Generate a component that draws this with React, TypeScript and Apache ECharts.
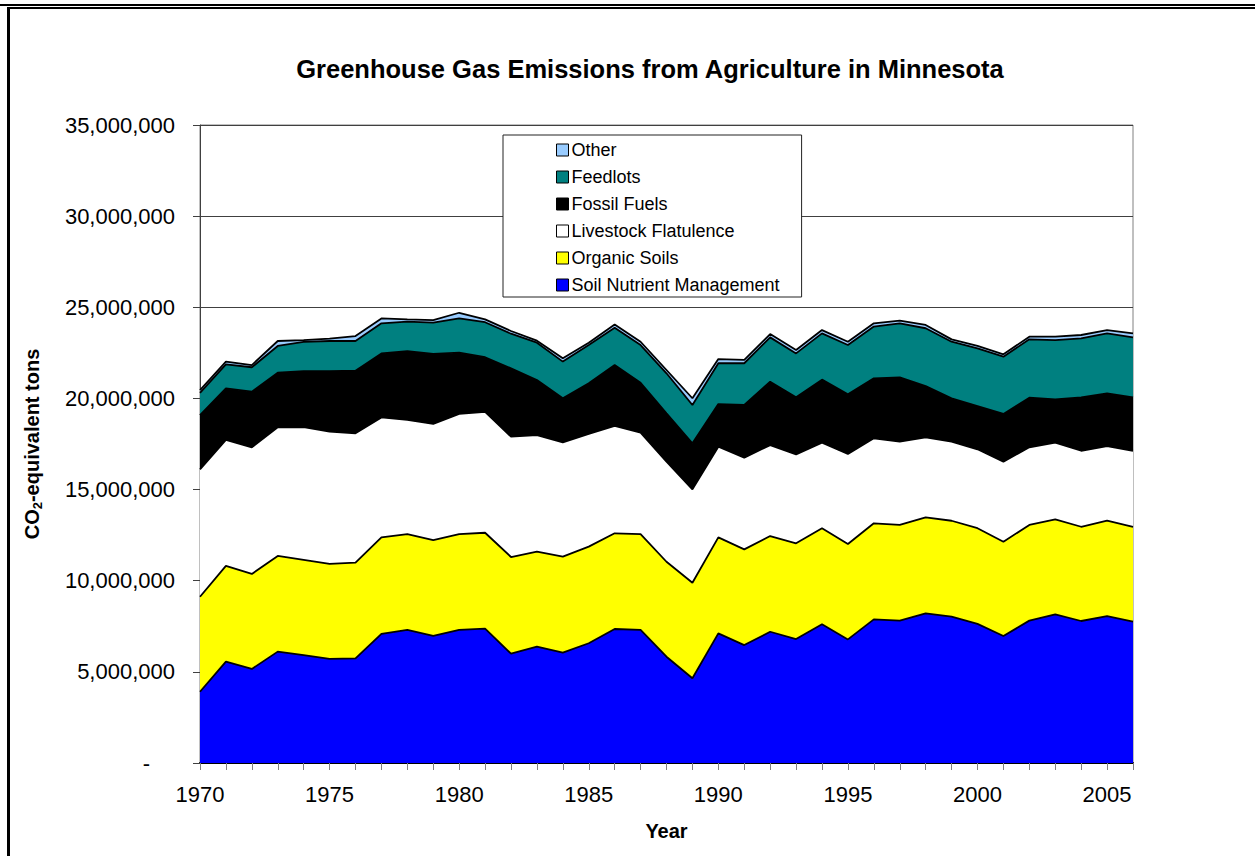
import React, { useEffect, useRef } from 'react';
import * as echarts from 'echarts';

// Years (categories)
const years = [
  '1970', '1971', '1972', '1973', '1974', '1975', '1976', '1977', '1978', '1979',
  '1980', '1981', '1982', '1983', '1984', '1985', '1986', '1987', '1988', '1989',
  '1990', '1991', '1992', '1993', '1994', '1995', '1996', '1997', '1998', '1999',
  '2000', '2001', '2002', '2003', '2004', '2005', '2006',
];

// Values in millions of CO2-equivalent tons
const soilNutrientManagement = [
  3.91, 5.56, 5.16, 6.11, 5.92, 5.71, 5.74, 7.08, 7.30, 6.97,
  7.30, 7.37, 6.00, 6.38, 6.05, 6.57, 7.35, 7.30, 5.83, 4.65,
  7.11, 6.47, 7.20, 6.80, 7.61, 6.78, 7.88, 7.81, 8.21, 8.03,
  7.63, 6.97, 7.81, 8.16, 7.79, 8.06, 7.75,
];
const organicSoils = [
  5.21, 5.25, 5.21, 5.25, 5.22, 5.21, 5.25, 5.30, 5.26, 5.26,
  5.26, 5.26, 5.30, 5.21, 5.27, 5.30, 5.25, 5.26, 5.21, 5.24,
  5.27, 5.25, 5.25, 5.25, 5.27, 5.23, 5.27, 5.25, 5.27, 5.26,
  5.25, 5.17, 5.25, 5.21, 5.17, 5.23, 5.21,
];
const livestockFlatulence = [
  6.99, 6.91, 6.95, 7.06, 7.28, 7.26, 7.10, 6.58, 6.26, 6.37,
  6.59, 6.64, 6.60, 6.40, 6.27, 6.18, 5.89, 5.56, 5.49, 5.12,
  4.97, 5.03, 4.99, 4.88, 4.69, 4.94, 4.66, 4.57, 4.39, 4.34,
  4.33, 4.39, 4.26, 4.20, 4.17, 4.10, 4.17,
];
const fossilFuels = [
  2.98, 2.83, 3.05, 2.99, 3.07, 3.32, 3.43, 3.51, 3.78, 3.84,
  3.36, 2.99, 3.75, 3.02, 2.42, 2.78, 3.34, 2.74, 2.65, 2.53,
  2.34, 2.89, 3.48, 3.13, 3.46, 3.28, 3.29, 3.53, 2.81, 2.38,
  2.37, 2.62, 2.72, 2.38, 2.93, 2.89, 2.93,
];
const feedlots = [
  1.22, 1.32, 1.34, 1.47, 1.61, 1.65, 1.63, 1.65, 1.61, 1.72,
  1.88, 1.92, 1.90, 2.05, 2.01, 2.10, 2.05, 2.07, 2.20, 2.10,
  2.24, 2.29, 2.43, 2.41, 2.54, 2.70, 2.84, 2.96, 3.17, 3.10,
  3.17, 3.14, 3.20, 3.25, 3.24, 3.29, 3.29,
];
const other = [
  0.15, 0.15, 0.12, 0.27, 0.10, 0.13, 0.27, 0.27, 0.13, 0.14,
  0.31, 0.16, 0.15, 0.11, 0.18, 0.13, 0.18, 0.18, 0.18, 0.37,
  0.23, 0.18, 0.18, 0.19, 0.18, 0.18, 0.18, 0.15, 0.18, 0.13,
  0.13, 0.13, 0.15, 0.19, 0.18, 0.18, 0.22,
];

const seriesNames = [
  'Soil Nutrient Management',
  'Organic Soils',
  'Livestock Flatulence',
  'Fossil Fuels',
  'Feedlots',
  'Other',
];
const seriesColors = ['#0000FF', '#FFFF00', '#FFFFFF', '#000000', '#008080', '#99CCFF'];
const seriesData = [soilNutrientManagement, organicSoils, livestockFlatulence, fossilFuels, feedlots, other];

const FONT = '"Liberation Sans", Arial, Helvetica, sans-serif';

function buildOption() {
  const series = seriesNames.map((name, i) => ({
    name,
    type: 'line',
    stack: 'total',
    data: seriesData[i].map((v) => v * 1e6),
    symbol: 'none',
    color: seriesColors[i],
    itemStyle: { color: seriesColors[i] },
    lineStyle: { color: '#000000', width: 1.8 },
    areaStyle: { color: seriesColors[i], opacity: 1 },
    emphasis: { disabled: true },
  }));

  return {
    animation: false,
    backgroundColor: '#ffffff',
    textStyle: { fontFamily: FONT },
    title: {
      text: 'Greenhouse Gas Emissions from Agriculture in Minnesota',
      left: 645,
      top: 51,
      textAlign: 'center',
      textStyle: { fontFamily: FONT, fontWeight: 'bold', fontSize: 25.5, color: '#000' },
    },
    legend: {
      orient: 'vertical',
      left: 503,
      top: 135,
      data: ['Other', 'Feedlots', 'Fossil Fuels', 'Livestock Flatulence', 'Organic Soils', 'Soil Nutrient Management'],
      icon: 'rect',
      itemWidth: 12,
      itemHeight: 12,
      itemGap: 9,
      padding: [6, 22, 3, 53],
      backgroundColor: '#ffffff',
      borderColor: '#222222',
      borderWidth: 1,
      borderRadius: 0,
      itemStyle: { borderColor: '#000', borderWidth: 1 },
      textStyle: { fontFamily: FONT, fontSize: 18, color: '#000', padding: [0, 0, 0, -2] },
      selectedMode: false,
    },
    grid: {
      left: 200,
      right: 122,
      top: 125,
      bottom: 93,
      show: true,
      borderColor: '#808080',
      borderWidth: 1,
      backgroundColor: 'transparent',
    },
    xAxis: {
      type: 'category',
      data: years,
      boundaryGap: false,
      axisLine: { show: true, lineStyle: { color: '#000', width: 2 } },
      axisTick: { show: true, interval: 0, length: 7, lineStyle: { color: '#808080' } },
      axisLabel: { interval: 4, fontSize: 22, color: '#000', margin: 20, fontFamily: FONT },
      splitLine: { show: false },
      name: 'Year',
      nameLocation: 'middle',
      nameGap: 58,
      nameTextStyle: { fontFamily: FONT, fontWeight: 'bold', fontSize: 20, color: '#000' },
    },
    yAxis: {
      type: 'value',
      min: 0,
      max: 35000000,
      interval: 5000000,
      axisLine: { show: true, lineStyle: { color: '#404040', width: 1 } },
      axisTick: { show: true, length: 7, lineStyle: { color: '#404040' } },
      splitLine: { show: true, lineStyle: { color: '#404040', width: 1 } },
      axisLabel: {
        fontSize: 22,
        color: '#000',
        margin: 25,
        fontFamily: FONT,
        formatter: (v: number) => (v === 0 ? '{d|-}' : v.toLocaleString('en-US')),
        rich: { d: { fontSize: 22, color: '#000', fontFamily: FONT, padding: [0, 25, 0, 0] } },
      },
      name: '{b|CO}{s|2}{b|-equivalent tons}',
      nameLocation: 'middle',
      nameGap: 156,
      nameRotate: 90,
      nameTextStyle: {
        rich: {
          b: { fontFamily: FONT, fontWeight: 'bold', fontSize: 20, color: '#000', lineHeight: 24 },
          s: { fontFamily: FONT, fontWeight: 'bold', fontSize: 13, color: '#000', verticalAlign: 'bottom', lineHeight: 14 },
        },
      },
    },
    graphic: [
      { type: 'line', shape: { x1: 0, y1: 5, x2: 1255, y2: 5 }, style: { stroke: '#000', lineWidth: 2 }, silent: true },
      { type: 'line', shape: { x1: 7, y1: 8, x2: 1255, y2: 8 }, style: { stroke: '#000', lineWidth: 2 }, silent: true },
      { type: 'line', shape: { x1: 8.5, y1: 7, x2: 8.5, y2: 856 }, style: { stroke: '#000', lineWidth: 3 }, silent: true },
    ],
    series,
  };
}

export default function App() {
  const ref = useRef<HTMLDivElement>(null);
  useEffect(() => {
    if (!ref.current) return;
    const chart = echarts.init(ref.current, null, { renderer: 'svg' });
    chart.setOption(buildOption() as any);
    return () => chart.dispose();
  }, []);
  return (
    <div
      ref={ref}
      style={{ position: 'absolute', left: 0, top: 0, width: 1255, height: 856, background: '#fff' }}
    />
  );
}
